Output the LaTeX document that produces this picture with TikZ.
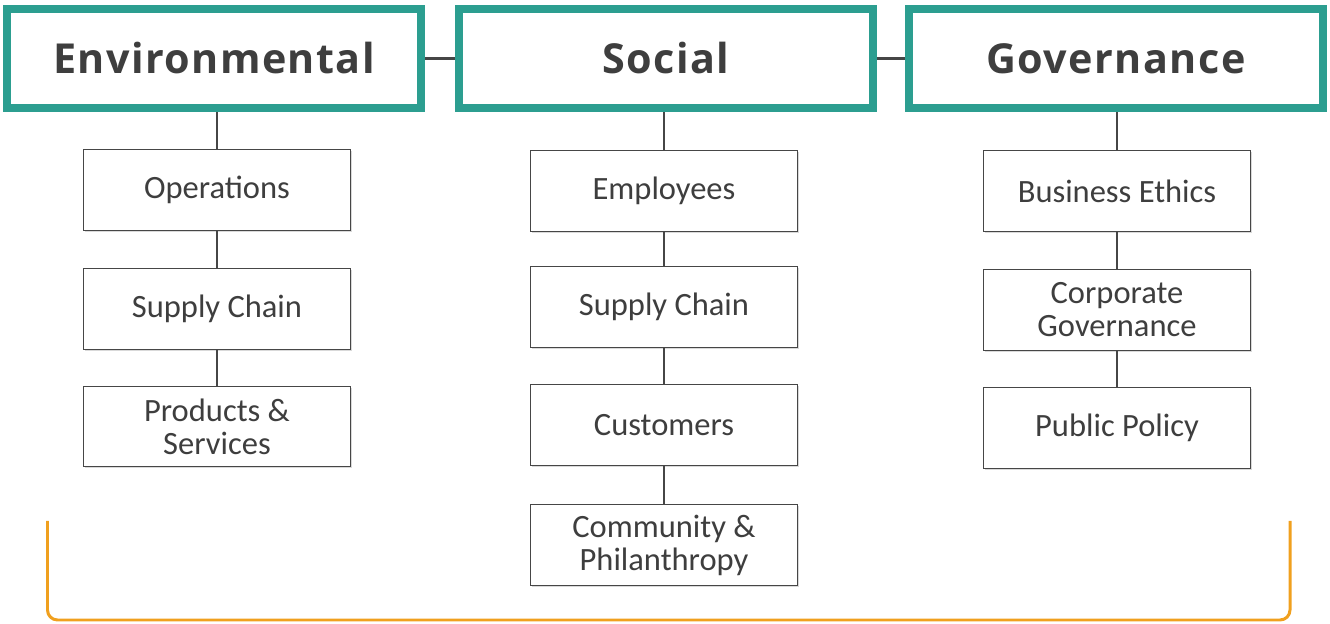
\documentclass[tikz,border=0pt]{standalone}
\usepackage{fontspec}
\setmainfont{Carlito}
\newfontfamily\headfont[LetterSpace=3.5]{Open Sans}
\usepackage{tikz}
\usetikzlibrary{shadows}
\definecolor{esgteal}{RGB}{44,158,144}
\definecolor{esgtext}{RGB}{62,62,62}
\definecolor{esgline}{RGB}{70,70,70}
\definecolor{esgorange}{RGB}{240,160,30}

\begin{document}
\begin{tikzpicture}
	\tikzset{pillar/.style = {shape=rectangle, draw=esgteal, line width=0.16cm, fill=white,
		minimum width=8.28cm, minimum height=1.98cm, text=esgtext,
		font=\headfont\bfseries\fontsize{23.5}{28}\selectfont,
		drop shadow={opacity=0.25, shadow xshift=0.6pt, shadow yshift=-0.6pt}}}
	\tikzset{item/.style = {shape=rectangle, draw=esgline, line width=0.8pt, fill=white,
		minimum width=5.33cm, minimum height=1.61cm, text=esgtext, align=center,
		font=\fontsize{18.5}{18.8}\selectfont,
		drop shadow={opacity=0.3, shadow xshift=0.8pt, shadow yshift=-0.8pt}}}
	\tikzset{link/.style = {draw=esgline, line width=1.2pt}}
	\tikzset{bracket/.style = {draw=esgorange, line width=1.7pt, rounded corners=0.2cm}}
	\useasboundingbox (0,0) rectangle (26.6,-12.48);
	\node[pillar] (env) at (4.28, -1.17) {Environmental};
	\node[pillar] (soc) at (13.32, -1.17) {Social};
	\node[pillar] (gov) at (22.32, -1.17) {Governance};
	\node[item] (ops) at (4.34, -3.80) {Operations};
	\node[item] (envsupply) at (4.34, -6.18) {Supply Chain};
	\node[item] (prod) at (4.34, -8.53) {Products \&\\Services};
	\node[item] (emp) at (13.28, -3.82) {Employees};
	\node[item] (socsupply) at (13.28, -6.14) {Supply Chain};
	\node[item] (cust) at (13.28, -8.50) {Customers};
	\node[item] (comm) at (13.28, -10.90) {Community \&\\Philanthropy};
	\node[item] (ethics) at (22.34, -3.82) {Business Ethics};
	\node[item] (corp) at (22.34, -6.20) {Corporate\\Governance};
	\node[item] (policy) at (22.34, -8.56) {Public Policy};
	\draw[link] (env) -- (soc);
	\draw[link] (soc) -- (gov);
	\draw[link] (ops.north) -- (ops |- env.south);
	\draw[link] (ops) -- (envsupply);
	\draw[link] (envsupply) -- (prod);
	\draw[link] (emp.north) -- (emp |- soc.south);
	\draw[link] (emp) -- (socsupply);
	\draw[link] (socsupply) -- (cust);
	\draw[link] (cust) -- (comm);
	\draw[link] (ethics.north) -- (ethics |- gov.south);
	\draw[link] (ethics) -- (corp);
	\draw[link] (corp) -- (policy);
	\coordinate (bl) at (0.95, -10.42);
	\coordinate (br) at (25.80, -10.42);
	\draw[bracket] (bl) -- ++(0,-1.98) -- ++(24.85,0) -- (br);
\end{tikzpicture}
\end{document}
